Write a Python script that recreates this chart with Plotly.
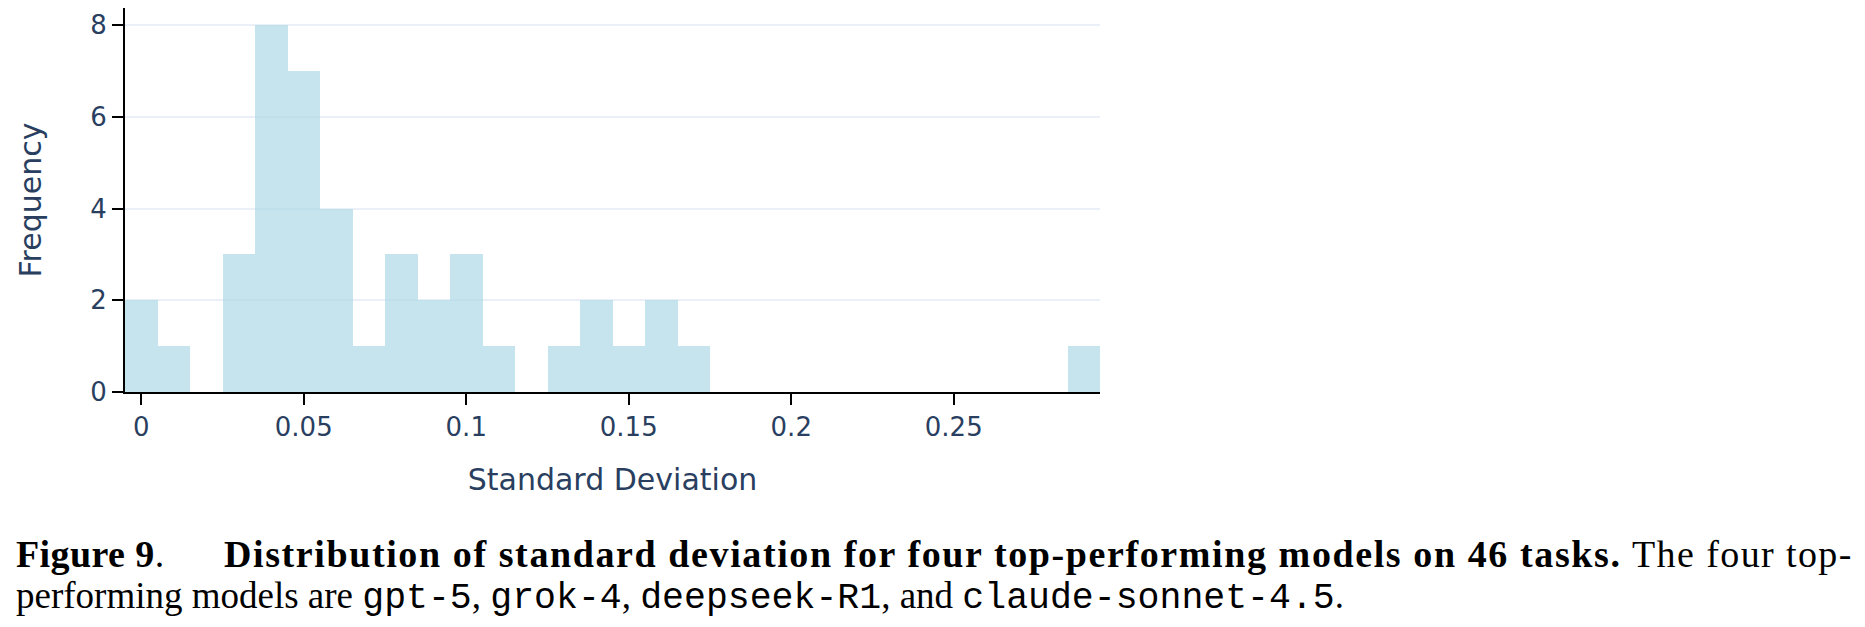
import plotly.graph_objects as go

# Histogram bins (centers) and counts, bin width 0.01
bin_centers = [0.00, 0.01, 0.02, 0.03, 0.04, 0.05, 0.06, 0.07, 0.08, 0.09,
               0.10, 0.11, 0.12, 0.13, 0.14, 0.15, 0.16, 0.17, 0.18, 0.19,
               0.20, 0.21, 0.22, 0.23, 0.24, 0.25, 0.26, 0.27, 0.28, 0.29]
counts = [2, 1, 0, 3, 8, 7, 4, 1, 3, 2,
          3, 1, 0, 1, 2, 1, 2, 1, 0, 0,
          0, 0, 0, 0, 0, 0, 0, 0, 0, 1]
bin_width = 0.01

x_tickvals = [0, 0.05, 0.1, 0.15, 0.2, 0.25]
x_ticktext = ["0", "0.05", "0.1", "0.15", "0.2", "0.25"]
y_tickvals = [0, 2, 4, 6, 8]

x_title = "Standard Deviation"
y_title = "Frequency"

caption_label = "Figure 9"
caption_bold = "Distribution of standard deviation for four top-performing models on 46 tasks."
caption_tail = "The four top-"
caption_line2_parts = [
    ("serif", "performing models are "),
    ("mono", "gpt-5"),
    ("serif", ", "),
    ("mono", "grok-4"),
    ("serif", ", "),
    ("mono", "deepseek-R1"),
    ("serif", ", and "),
    ("mono", "claude-sonnet-4.5"),
    ("serif", "."),
]

FONT = "DejaVu Sans, Verdana, sans-serif"
FCOL = "#2a3f5f"
SERIF = "Liberation Serif, Times New Roman, serif"
MONO = "Liberation Mono, Courier New, monospace"

fig = go.Figure()
fig.add_trace(go.Bar(
    x=bin_centers, y=counts, width=[bin_width] * len(bin_centers),
    marker=dict(color="rgba(173,216,230,0.7)", line=dict(width=0)),
    showlegend=False,
))

# page has an 8px body margin: figure origin sits at page (8, 8)
OFF = 8
W, H = 1865 - 2 * OFF, 627 - 2 * OFF
plot_left, plot_right, plot_top, plot_bottom = 125, 1100, 8, 392  # page px
L = plot_left - OFF
R = W - (plot_right - OFF)
T = plot_top - OFF
B = H - (plot_bottom - OFF)
pw, ph = W - L - R, H - T - B

def px2x(px):
    return (px - plot_left) / pw

def py2y(py):
    return (plot_bottom - py) / ph

# y axis: 8 sits at page y=25, 0 at page y=392
ytop = 8 * (plot_bottom - plot_top) / (plot_bottom - 25)

line2 = "".join(
    f'<span style="font-family:{MONO}; font-size:36.5px">{t}</span>' if k == "mono" else t
    for k, t in caption_line2_parts
)

def spaced(t, ls):
    return f'<span style="letter-spacing:{ls}px">{t}</span>'

annotations = [
    dict(text="<b>" + spaced(caption_label, 0.4) + "</b>.", x=px2x(14), y=py2y(554), xanchor="left"),
    dict(text="<b>" + spaced(caption_bold, 1.6) + "</b>", x=px2x(222), y=py2y(554), xanchor="left"),
    dict(text=spaced(caption_tail, 1.4), x=px2x(1855), y=py2y(554), xanchor="right"),
    dict(text=line2, x=px2x(14), y=py2y(597), xanchor="left"),
]
for a in annotations:
    a.update(xref="paper", yref="paper", yanchor="middle", showarrow=False,
             font=dict(family=SERIF, size=38, color="black"))
annotations[3]["font"]["size"] = 37

fig.update_layout(
    width=W, height=H, autosize=False,
    margin=dict(l=L, r=R, t=T, b=B, pad=0),
    paper_bgcolor="white", plot_bgcolor="white",
    bargap=0,
    font=dict(family=FONT, color=FCOL, size=26),
    annotations=annotations,
    xaxis=dict(
        range=[-0.005, 0.295], tickmode="array", tickvals=x_tickvals, ticktext=x_ticktext,
        showgrid=False, zeroline=False, showline=True, linecolor="black", linewidth=2,
        ticks="outside", ticklen=11, tickwidth=2, tickcolor="black",
        tickfont=dict(size=26, family=FONT, color=FCOL),
        title=dict(text=x_title, font=dict(size=30, family=FONT, color=FCOL), standoff=28),
    ),
    yaxis=dict(
        range=[0, ytop], tickmode="array", tickvals=y_tickvals,
        showgrid=True, gridcolor="#EBF0F8", gridwidth=2, zeroline=False,
        showline=True, linecolor="black", linewidth=2,
        ticks="outside", ticklen=11, tickwidth=2, tickcolor="black",
        tickfont=dict(size=26, family=FONT, color=FCOL),
        title=dict(text=y_title, font=dict(size=30, family=FONT, color=FCOL), standoff=40),
    ),
)

fig.write_html("out.html")
